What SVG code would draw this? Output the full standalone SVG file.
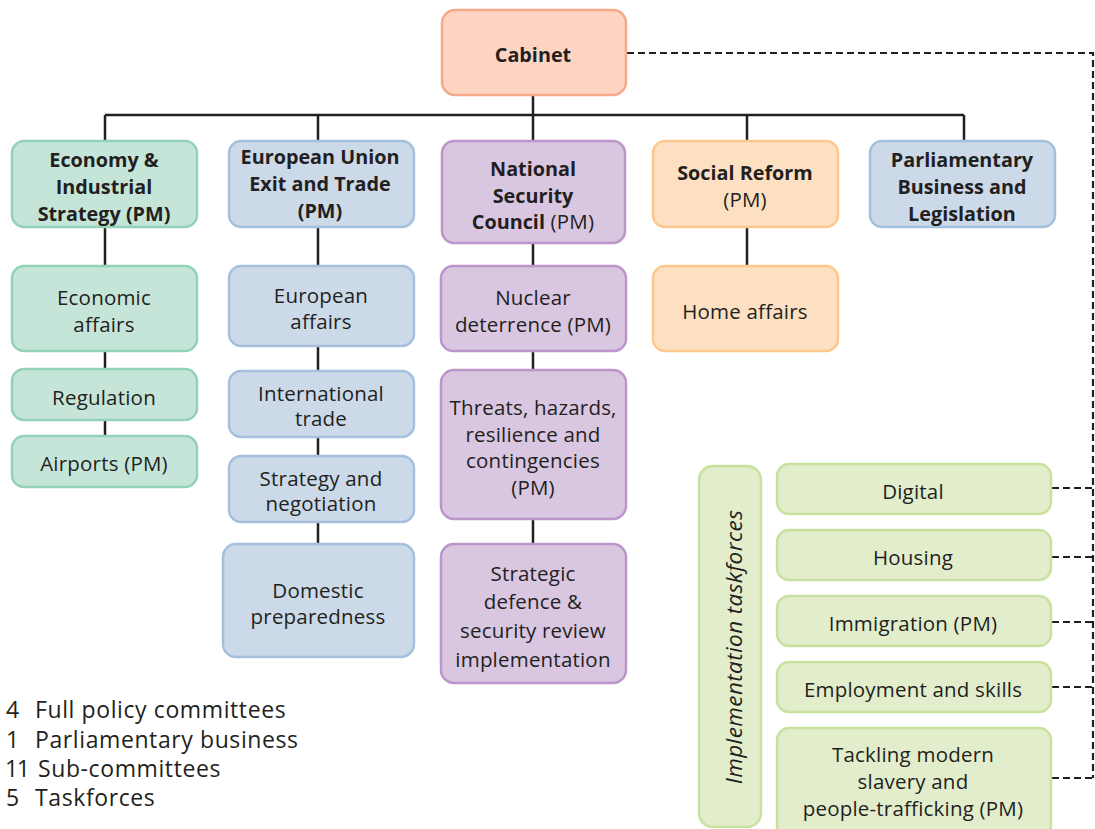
<svg xmlns="http://www.w3.org/2000/svg" width="1095" height="829" viewBox="0 0 1095 829">
<style>
text{font-family:"Open Sans","Liberation Sans",sans-serif;font-size:20.5px;letter-spacing:0.2px;fill:#231f20;text-anchor:middle;dominant-baseline:central}
.b{font-weight:bold;font-size:19.8px;letter-spacing:0}
tspan.b{font-size:19.8px}
rect{stroke-width:2.5}
.cab{fill:#fcd4c1;stroke:#f6a98a}
.grn{fill:#c6e5d9;stroke:#92d2b8}
.blu{fill:#cbd9e8;stroke:#a5c0dc}
.pur{fill:#d9c6e1;stroke:#bc95ca}
.org{fill:#fde0c2;stroke:#fcc88c}
.lg{fill:#e2edcc;stroke:#c9e19f}
.ln{fill:none;stroke:#231f20;stroke-width:2.5}
.ds{fill:none;stroke:#231f20;stroke-width:2.2;stroke-dasharray:7 4}
.leg{text-anchor:start;font-size:23px;letter-spacing:0.6px}
.num{letter-spacing:-1.5px}
.it{font-style:italic;font-size:22.5px;letter-spacing:0.4px}
</style>
<g id="connectors">
<path class="ln" d="M533 95V141M105 115H964M105 115V141M318 115V141M747 115V141M964 115V141"/>
<path class="ln" d="M105 227V266M105 351V369M105 420V436"/>
<path class="ln" d="M318 227V266M318 346V371M318 437V456M318 522V544"/>
<path class="ln" d="M533 243V266M533 351V370M533 519V544"/>
<path class="ln" d="M747 227V266"/>
<path class="ds" d="M627 53H1093V778M1052 488H1093M1052 557H1093M1052 622H1093M1052 687H1093M1052 778H1093"/>
</g>
<g id="cabinet"><rect class="cab" x="442" y="10" width="184" height="85" rx="13"/><text class="b" x="533" y="54">Cabinet</text></g>
<g id="economy"><rect class="grn" x="12" y="141" width="185" height="86" rx="12"/><text class="b" x="104" y="159">Economy &amp;</text><text class="b" x="104" y="186">Industrial</text><text class="b" x="104" y="213">Strategy (PM)</text></g>
<g id="eu"><rect class="blu" x="229" y="141" width="185" height="86" rx="12"/><text class="b" x="320" y="156">European Union</text><text class="b" x="320" y="183">Exit and Trade</text><text class="b" x="320" y="210">(PM)</text></g>
<g id="nsc"><rect class="pur" x="442" y="141" width="183" height="102" rx="12"/><text class="b" x="533" y="168">National</text><text class="b" x="533" y="195">Security</text><text x="533" y="221"><tspan class="b">Council</tspan> (PM)</text></g>
<g id="social"><rect class="org" x="653" y="141" width="185" height="86" rx="12"/><text class="b" x="745" y="172">Social Reform</text><text x="745" y="199">(PM)</text></g>
<g id="parliamentary"><rect class="blu" x="870" y="141" width="185" height="86" rx="12"/><text class="b" x="962" y="159">Parliamentary</text><text class="b" x="962" y="186">Business and</text><text class="b" x="962" y="213">Legislation</text></g>
<g id="economic-affairs"><rect class="grn" x="12" y="266" width="185" height="85" rx="12"/><text x="104" y="297">Economic</text><text x="104" y="324">affairs</text></g>
<g id="regulation"><rect class="grn" x="12" y="369" width="185" height="51" rx="12"/><text x="104" y="397">Regulation</text></g>
<g id="airports"><rect class="grn" x="12" y="436" width="185" height="51" rx="12"/><text x="104" y="463">Airports (PM)</text></g>
<g id="european-affairs"><rect class="blu" x="229" y="266" width="185" height="80" rx="12"/><text x="321" y="295">European</text><text x="321" y="321">affairs</text></g>
<g id="international-trade"><rect class="blu" x="229" y="371" width="185" height="66" rx="12"/><text x="321" y="393">International</text><text x="321" y="418">trade</text></g>
<g id="strategy-negotiation"><rect class="blu" x="229" y="456" width="185" height="66" rx="12"/><text x="321" y="478">Strategy and</text><text x="321" y="503">negotiation</text></g>
<g id="domestic"><rect class="blu" x="223" y="544" width="191" height="113" rx="13"/><text x="318" y="590">Domestic</text><text x="318" y="616">preparedness</text></g>
<g id="nuclear"><rect class="pur" x="441" y="266" width="185" height="85" rx="12"/><text x="533" y="297">Nuclear</text><text x="533" y="324">deterrence (PM)</text></g>
<g id="threats"><rect class="pur" x="441" y="370" width="185" height="149" rx="13"/><text x="533" y="407">Threats, hazards,</text><text x="533" y="434">resilience and</text><text x="533" y="460">contingencies</text><text x="533" y="487">(PM)</text></g>
<g id="strategic-defence"><rect class="pur" x="441" y="544" width="185" height="139" rx="13"/><text x="533" y="573">Strategic</text><text x="533" y="601">defence &amp;</text><text x="533" y="630">security review</text><text x="533" y="659">implementation</text></g>
<g id="home-affairs"><rect class="org" x="653" y="266" width="185" height="85" rx="12"/><text x="745" y="311">Home affairs</text></g>
<g id="taskforces-label"><rect class="lg" x="699" y="466" width="62" height="361" rx="14"/><text class="it" x="733" y="647" transform="rotate(-90 733 647)">Implementation taskforces</text></g>
<g id="digital"><rect class="lg" x="777" y="464" width="274" height="50" rx="12"/><text x="913" y="491">Digital</text></g>
<g id="housing"><rect class="lg" x="777" y="530" width="274" height="50" rx="12"/><text x="913" y="557">Housing</text></g>
<g id="immigration"><rect class="lg" x="777" y="596" width="274" height="50" rx="12"/><text x="913" y="623">Immigration (PM)</text></g>
<g id="employment"><rect class="lg" x="777" y="662" width="274" height="50" rx="12"/><text x="913" y="689">Employment and skills</text></g>
<g id="slavery"><rect class="lg" x="777" y="728" width="274" height="110" rx="12"/><text x="913" y="754">Tackling modern</text><text x="913" y="781">slavery and</text><text x="913" y="808">people-trafficking (PM)</text></g>
<g id="legend">
<text class="leg" x="6" y="709">4</text><text class="leg" x="35" y="709">Full policy committees</text>
<text class="leg" x="6" y="739">1</text><text class="leg" x="35" y="739">Parliamentary business</text>
<text class="leg num" x="5" y="768">11</text><text class="leg" x="38" y="768">Sub-committees</text>
<text class="leg" x="6" y="797">5</text><text class="leg" x="35" y="797">Taskforces</text>
</g>
</svg>
